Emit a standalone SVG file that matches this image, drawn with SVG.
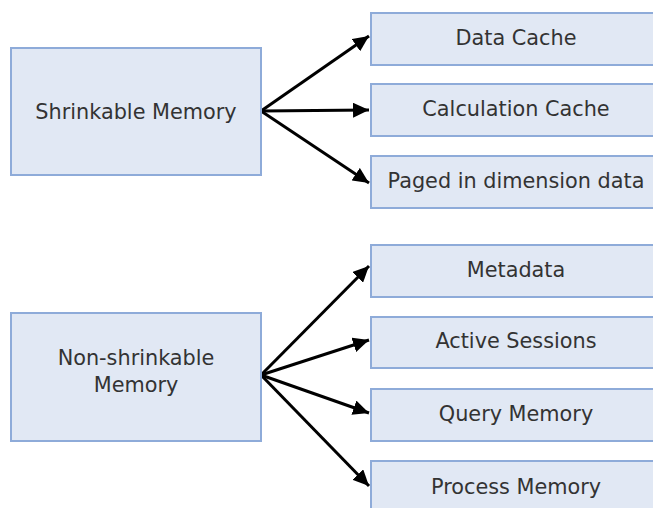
<svg xmlns="http://www.w3.org/2000/svg" width="653" height="508" viewBox="0 0 653 508">
<style>
.box{fill:#e1e8f4;stroke:#8eabd9;stroke-width:2}
.t{font-family:"DejaVu Sans",Verdana,sans-serif;font-size:20.8px;fill:#333;text-anchor:middle}
.c{stroke:#000;stroke-width:3;fill:none;marker-end:url(#ah)}
</style>
<defs>
<marker id="ah" markerUnits="userSpaceOnUse" markerWidth="17" markerHeight="15" refX="16" refY="7.5" orient="auto">
<path d="M0,0 L16,7.5 L0,15 Z" fill="#000"/>
</marker>
</defs>
<rect width="653" height="508" fill="#fff"/>
<g id="connectors">
<line class="c" x1="261" y1="111" x2="369" y2="36"/>
<line class="c" x1="261" y1="111" x2="369" y2="110"/>
<line class="c" x1="261" y1="111" x2="369" y2="183"/>
<line class="c" x1="261" y1="375" x2="369" y2="266"/>
<line class="c" x1="261" y1="375" x2="369" y2="340"/>
<line class="c" x1="261" y1="375" x2="369" y2="413"/>
<line class="c" x1="261" y1="375" x2="369" y2="486"/>
</g>
<g id="shrinkable"><rect class="box" x="11" y="48" width="250" height="127"/><text class="t" x="136" y="119">Shrinkable Memory</text></g>
<g id="datacache"><rect class="box" x="371" y="13" width="292" height="52"/><text class="t" x="516" y="45">Data Cache</text></g>
<g id="calccache"><rect class="box" x="371" y="84" width="292" height="52"/><text class="t" x="516" y="116">Calculation Cache</text></g>
<g id="paged"><rect class="box" x="371" y="156" width="292" height="52"/><text class="t" x="516" y="188">Paged in dimension data</text></g>
<g id="nonshrinkable"><rect class="box" x="11" y="313" width="250" height="128"/><text class="t" x="136" y="365">Non-shrinkable</text><text class="t" x="136" y="392">Memory</text></g>
<g id="metadata"><rect class="box" x="371" y="245" width="292" height="52"/><text class="t" x="516" y="277">Metadata</text></g>
<g id="sessions"><rect class="box" x="371" y="317" width="292" height="51"/><text class="t" x="516" y="348">Active Sessions</text></g>
<g id="query"><rect class="box" x="371" y="389" width="292" height="52"/><text class="t" x="516" y="421">Query Memory</text></g>
<g id="process"><rect class="box" x="371" y="461" width="292" height="52"/><text class="t" x="516" y="494">Process Memory</text></g>
</svg>
